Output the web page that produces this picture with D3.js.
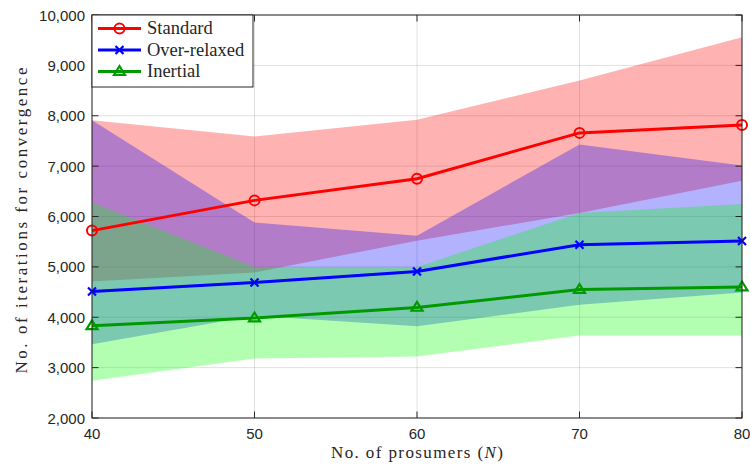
<!DOCTYPE html>
<html>
<head>
<meta charset="utf-8">
<script src="https://d3js.org/d3.v7.min.js"></script>
<style>
  html, body { margin: 0; padding: 0; background: #fff; }
  svg { display: block; }
  .tick { font-family: "Liberation Sans", Arial, Helvetica, sans-serif; font-size: 15px; fill: #262626; }
  .ser { font-family: "Liberation Serif", "Times New Roman", serif; fill: #262626; }
</style>
</head>
<body>
<div id="chart"></div>
<script>
// ---- data ----
const prosumers = [40, 50, 60, 70, 80];
const xTicks = [40, 50, 60, 70, 80];
const yTicks = [2000, 3000, 4000, 5000, 6000, 7000, 8000, 9000, 10000];

const standardMean  = [5720, 6320, 6750, 7660, 7815];
const standardUpper = [7910, 7590, 7920, 8700, 9560];
const standardLower = [4710, 4890, 5520, 6070, 6710];

const overMean  = [4510, 4690, 4910, 5440, 5515];
const overUpper = [7910, 5880, 5620, 7430, 7010];
const overLower = [3465, 4030, 3820, 4250, 4490];

const inertialMean  = [3830, 3985, 4195, 4550, 4600];
const inertialUpper = [6280, 5000, 5000, 6070, 6250];
const inertialLower = [2740, 3180, 3220, 3640, 3640];

const seriesNames = ["Standard", "Over-relaxed", "Inertial"];

// ---- layout ----
const W = 750, H = 466;
const m = { left: 92, right: 8, top: 15, bottom: 48 };
const x = d3.scaleLinear().domain([40, 80]).range([m.left, W - m.right]);
const y = d3.scaleLinear().domain([2000, 10000]).range([H - m.bottom, m.top]);

const series = [
  { name: seriesNames[0], mean: standardMean, lo: standardLower, hi: standardUpper,
    line: "#ff0000", fill: "#ff0000", marker: "circle" },
  { name: seriesNames[1], mean: overMean, lo: overLower, hi: overUpper,
    line: "#0000ff", fill: "#0000ff", marker: "cross" },
  { name: seriesNames[2], mean: inertialMean, lo: inertialLower, hi: inertialUpper,
    line: "#009a00", fill: "#00ff00", marker: "triangle" }
];

const svg = d3.select("#chart").append("svg").attr("width", W).attr("height", H);
const axisColor = "#262626";

// grid
const grid = svg.append("g");
grid.selectAll("line.gx").data(xTicks).join("line")
  .attr("x1", d => x(d)).attr("x2", d => x(d))
  .attr("y1", y(2000)).attr("y2", y(10000))
  .attr("stroke", "#000").attr("stroke-opacity", 0.12).attr("stroke-width", 1);
grid.selectAll("line.gy").data(yTicks).join("line")
  .attr("x1", x(40)).attr("x2", x(80))
  .attr("y1", d => y(d)).attr("y2", d => y(d))
  .attr("stroke", "#000").attr("stroke-opacity", 0.12).attr("stroke-width", 1);

// bands
const area = d3.area()
  .x((d, i) => x(prosumers[i]))
  .y0(d => y(d[0])).y1(d => y(d[1]));
series.forEach(s => {
  const pts = s.lo.map((v, i) => [v, s.hi[i]]);
  svg.append("path").attr("d", area(pts))
    .attr("fill", s.fill).attr("fill-opacity", 0.3).attr("stroke", "none");
});

// lines + markers
const line = d3.line().x((d, i) => x(prosumers[i])).y(d => y(d));
function drawMarker(g, type, cx, cy, color) {
  if (type === "circle") {
    g.append("circle").attr("cx", cx).attr("cy", cy).attr("r", 5)
      .attr("fill", "none").attr("stroke", color).attr("stroke-width", 2);
  } else if (type === "cross") {
    const r = 4;
    g.append("path").attr("d", `M${cx-r},${cy-r}L${cx+r},${cy+r}M${cx-r},${cy+r}L${cx+r},${cy-r}`)
      .attr("stroke", color).attr("stroke-width", 2.2).attr("fill", "none");
  } else {
    const r = 5.5;
    g.append("path").attr("d", `M${cx},${cy-r}L${cx+r},${cy+r*0.6}L${cx-r},${cy+r*0.6}Z`)
      .attr("stroke", color).attr("stroke-width", 2.2).attr("fill", "none")
      .attr("stroke-linejoin", "miter");
  }
}
series.forEach(s => {
  svg.append("path").attr("d", line(s.mean))
    .attr("fill", "none").attr("stroke", s.line).attr("stroke-width", 3);
  const g = svg.append("g");
  s.mean.forEach((v, i) => drawMarker(g, s.marker, x(prosumers[i]), y(v), s.line));
});

// axes box
const x0 = x(40), x1 = x(80), y0 = y(2000), y1 = y(10000);
svg.append("rect").attr("x", x0).attr("y", y1).attr("width", x1 - x0).attr("height", y0 - y1)
  .attr("fill", "none").attr("stroke", axisColor).attr("stroke-width", 1);
const tl = 6.5;
const ticks = svg.append("g").attr("stroke", axisColor).attr("stroke-width", 1);
xTicks.forEach(t => {
  ticks.append("line").attr("x1", x(t)).attr("x2", x(t)).attr("y1", y0).attr("y2", y0 - tl);
  ticks.append("line").attr("x1", x(t)).attr("x2", x(t)).attr("y1", y1).attr("y2", y1 + tl);
});
yTicks.forEach(t => {
  ticks.append("line").attr("x1", x0).attr("x2", x0 + tl).attr("y1", y(t)).attr("y2", y(t));
  ticks.append("line").attr("x1", x1).attr("x2", x1 - tl).attr("y1", y(t)).attr("y2", y(t));
});

// tick labels
const fmt = d3.format(",");
svg.append("g").selectAll("text").data(xTicks).join("text")
  .attr("class", "tick")
  .attr("x", d => x(d)).attr("y", y0 + 21)
  .attr("text-anchor", "middle")
  .text(d => d);
svg.append("g").selectAll("text").data(yTicks).join("text")
  .attr("class", "tick")
  .attr("x", x0 - 7).attr("y", d => y(d) + 5.5)
  .attr("text-anchor", "end")
  .text(d => fmt(d));

// axis labels
const xl = svg.append("text")
  .attr("class", "ser")
  .attr("x", (x0 + x1) / 2).attr("y", 458)
  .attr("text-anchor", "middle")
  .style("font-size", "17px")
  .attr("textLength", 172).attr("lengthAdjust", "spacing");
xl.append("tspan").text("No.  of prosumers (");
xl.append("tspan").style("font-style", "italic").text("N");
xl.append("tspan").text(")");

svg.append("text")
  .attr("class", "ser")
  .attr("transform", `translate(27, ${(y0 + y1) / 2 + 4}) rotate(-90)`)
  .attr("text-anchor", "middle")
  .style("font-size", "17px")
  .attr("textLength", 306).attr("lengthAdjust", "spacing")
  .text("No.  of iterations for convergence");

// legend
const lg = svg.append("g");
lg.append("rect").attr("x", x0).attr("y", y1).attr("width", 161).attr("height", 72)
  .attr("fill", "#fff").attr("stroke", axisColor).attr("stroke-width", 1);
const rowY = [28.5, 50, 71.5];
series.forEach((s, i) => {
  const cy = rowY[i];
  lg.append("line").attr("x1", 98).attr("x2", 141).attr("y1", cy).attr("y2", cy)
    .attr("stroke", s.line).attr("stroke-width", 3);
  drawMarker(lg, s.marker, 119.5, cy, s.line);
  lg.append("text").attr("class", "ser").attr("x", 147).attr("y", cy + 5.5)
    .style("font-size", "18.5px")
    .text(s.name);
});
</script>
</body>
</html>
